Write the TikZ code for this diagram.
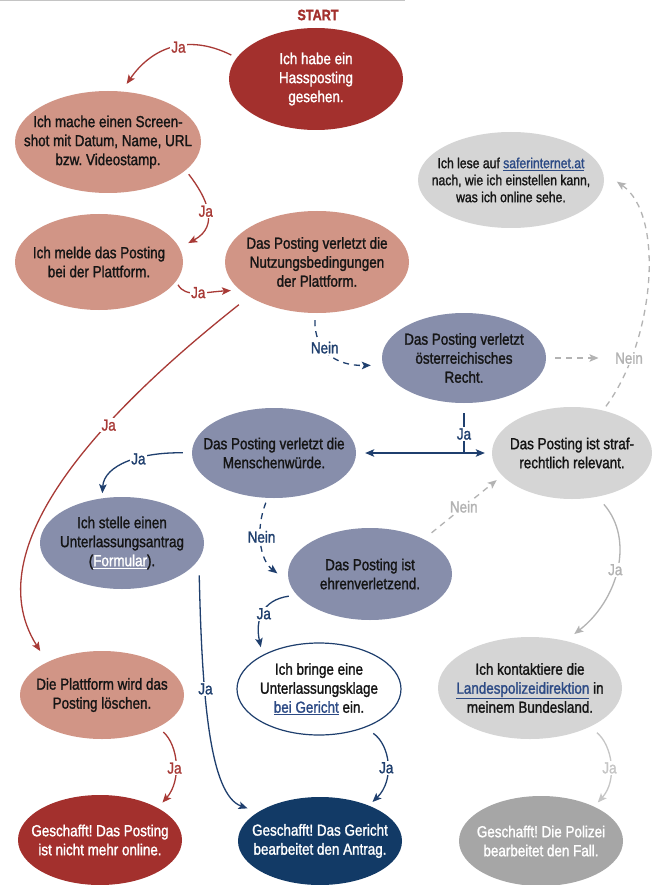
\documentclass[tikz,border=0pt]{standalone}
\usepackage{fontspec}
\setmainfont{Liberation Sans}[FakeStretch=0.84,FakeBold=1.4]
\usetikzlibrary{arrows.meta,shapes.geometric}
\definecolor{dred}{HTML}{A3302D}
\definecolor{salmon}{HTML}{D19586}
\definecolor{slate}{HTML}{878EAB}
\definecolor{lgray}{HTML}{D5D5D5}
\definecolor{mgray}{HTML}{A6A6A6}
\definecolor{navy}{HTML}{123A66}
\definecolor{txt}{HTML}{151515}
\definecolor{lnkblue}{HTML}{2C4A85}
\definecolor{ared}{HTML}{A83A36}
\definecolor{anavy}{HTML}{1F3F6E}
\definecolor{agray}{HTML}{B3B3B3}
\definecolor{algray}{HTML}{C6C6C6}
\definecolor{topgray}{HTML}{C4C4C4}
\newcommand\lnk[1]{\textcolor{lnkblue}{\underline{#1}}}
\frenchspacing
\begin{document}
\begin{tikzpicture}[x=1pt,y=-1pt,
  ell/.style={ellipse, inner sep=-45pt, align=center, text=txt,
    font=\fontsize{16}{19}\selectfont\frenchspacing},
  sz/.style 2 args={minimum width=2*#1, minimum height=2*#2},
  tip/.style={-{Stealth[length=9pt,width=7.5pt,inset=2pt]}},
  conn/.style={line width=1.3pt, tip},
  redarr/.style={conn, draw=ared},
  navyarr/.style={conn, draw=anavy},
  grayarr/.style={conn, draw=agray},
  lgrayarr/.style={conn, draw=algray},
  dsh/.style={dash pattern=on 6pt off 5pt},
  lab/.style={fill=white, inner sep=1.5pt, font=\fontsize{16}{19}\selectfont},
  labr/.style={lab, text=ared},
  labn/.style={lab, text=anavy},
  labg/.style={lab, text=agray},
  labl/.style={lab, text=algray}]
\useasboundingbox (0,0) rectangle (652,885);
\fill[white] (0,0) rectangle (652,885);
\draw[topgray, line width=1.2pt] (0,0.6) -- (405,0.6);

% nodes
\node[font=\fontsize{15}{19}\selectfont\bfseries, text=dred] (startlbl) at (318,15) {START};
\node[ell, sz={87}{51}, fill=dred, text=white] (start) at (316,79) {Ich habe ein\\Hassposting\\gesehen.};
\node[ell, sz={93}{51}, fill=salmon] (ss) at (108,142) {Ich mache einen Screen-\\shot mit Datum, Name, URL\\bzw. Videostamp.};
\node[ell, sz={84}{48}, fill=salmon] (melde) at (99,262) {Ich melde das Posting\\bei der Plattform.};
\node[ell, sz={92}{51}, fill=salmon] (nutz) at (317,262) {Das Posting verletzt die\\Nutzungsbedingungen\\der Plattform.};
\node[ell, sz={93}{48}, fill=lgray, font=\fontsize{14.5}{17}\selectfont\frenchspacing] (safer) at (511,180) {Ich lese auf \lnk{saferinternet.at}\\nach, wie ich einstellen kann,\\was ich online sehe.};
\node[ell, sz={82}{45}, fill=slate] (recht) at (464,358) {Das Posting verletzt\\österreichisches\\Recht.};
\node[ell, sz={82}{45}, fill=slate] (wuerde) at (274,453) {Das Posting verletzt die\\Menschenwürde.};
\node[ell, sz={80}{46}, fill=lgray] (straf) at (572,453) {Das Posting ist straf-\\rechtlich relevant.};
\node[ell, sz={82}{46}, fill=slate] (antrag) at (122,543) {Ich stelle einen\\Unterlassungsantrag\\(\textcolor{white}{\underline{Formular}}).};
\node[ell, sz={82}{46}, fill=slate] (ehre) at (370,574) {Das Posting ist\\ehrenverletzend.};
\node[ell, sz={82}{44}, fill=salmon] (loesch) at (102,695) {Die Plattform wird das\\Posting löschen.};
\node[ell, sz={82}{46}, fill=white, draw=anavy, line width=1.2pt] (klage) at (319,689) {Ich bringe eine\\Unterlassungsklage\\\lnk{bei Gericht} ein.};
\node[ell, sz={92}{51}, fill=lgray] (polizei) at (530,688) {Ich kontaktiere die\\\lnk{Landespolizeidirektion} in\\meinem Bundesland.};
\node[ell, sz={82}{45}, fill=dred, text=white] (done1) at (100,840) {Geschafft! Das Posting\\ist nicht mehr online.};
\node[ell, sz={82}{44}, fill=navy, text=white] (done2) at (320,841) {Geschafft! Das Gericht\\bearbeitet den Antrag.};
\node[ell, sz={82}{45}, fill=mgray, text=white] (done3) at (541,841) {Geschafft! Die Polizei\\bearbeitet den Fall.};

% connectors
\draw[redarr, shorten <=6pt, shorten >=9pt] (start.165) .. controls (185,32) and (150,50) .. (ss.75) node[labr, pos=0.43] {Ja};
\draw[redarr, shorten <=5pt, shorten >=10pt] (ss.-20) .. controls (207,198) and (220,226) .. (melde.10) node[labr, pos=0.5] {Ja};
\draw[redarr, shorten <=4pt, shorten >=9pt] (melde.-14) .. controls (185,298) and (205,292) .. (nutz.200) node[labr, pos=0.5] {Ja};
\draw[redarr, shorten <=13pt, shorten >=13pt] (nutz.207) .. controls (125,395) and (-30,540) .. (loesch.149) node[labr, pos=0.38] {Ja};
\draw[navyarr, dsh, shorten <=7pt, shorten >=12pt] (nutz.268) .. controls (314,350) and (335,366) .. (recht.185) node[labn, pos=0.4] {Nein};

\draw[grayarr, dsh, shorten <=5pt, shorten >=17pt] (straf.54) .. controls (655,340) and (665,215) .. (safer.5);
\node[labg] (neinR) at (629,358) {Nein};
\draw[grayarr, dsh, shorten <=9pt, shorten >=15pt] (recht.east) -- (neinR.west);

\draw[line width=1.3pt, draw=anavy, shorten <=10pt] (recht.south) -- (recht.south |- wuerde.east) node[labn, pos=0.62] {Ja};
\draw[line width=1.3pt, draw=anavy, {Stealth[length=9pt,width=7.5pt,inset=2pt]}-{Stealth[length=9pt,width=7.5pt,inset=2pt]}, shorten <=9pt, shorten >=7pt] (wuerde.east) -- (straf.west);

\draw[navyarr, shorten <=9pt, shorten >=5pt] (wuerde.west) .. controls (140,452) and (104,465) .. (antrag.114) node[labn, pos=0.4] {Ja};
\draw[navyarr, dsh, shorten <=5pt, shorten >=15pt] (wuerde.262) .. controls (255,530) and (260,560) .. (ehre.186) node[labn, pos=0.42] {Nein};
\draw[grayarr, dsh, shorten <=10pt, shorten >=7pt] (ehre.33) -- (straf.198) node[labg, pos=0.51] {Nein};
\draw[navyarr, shorten <=8pt, shorten >=8pt] (ehre.196) .. controls (262,600) and (255,620) .. (klage.149) node[labn, pos=0.5] {Ja};
\draw[navyarr, shorten <=16pt, shorten >=11pt] (antrag.-12) .. controls (202,700) and (210,795) .. (done2.155) node[labn, pos=0.35] {Ja};
\draw[navyarr, shorten <=10pt, shorten >=5pt] (klage.-40) .. controls (390,745) and (395,780) .. (done2.36) node[labn, pos=0.55] {Ja};
\draw[redarr, shorten <=7pt, shorten >=7pt] (loesch.-30) .. controls (178,745) and (182,780) .. (done1.29) node[labr, pos=0.55] {Ja};
\draw[grayarr, shorten <=10pt, shorten >=11pt] (straf.-60) .. controls (635,540) and (618,600) .. (polizei.53) node[labg, pos=0.5] {Ja};
\draw[lgrayarr, shorten <=9pt, shorten >=5.5pt] (polizei.-33) .. controls (612,745) and (618,780) .. (done3.33) node[labl, pos=0.55] {Ja};
\end{tikzpicture}
\end{document}
